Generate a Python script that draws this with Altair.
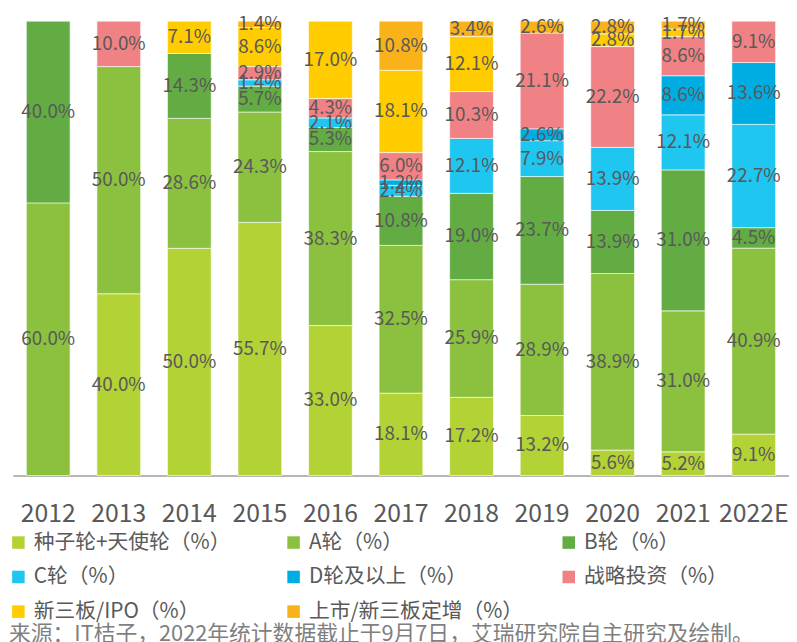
import altair as alt
import pandas as pd

years = ["2012", "2013", "2014", "2015", "2016", "2017", "2018", "2019", "2020", "2021", "2022E"]
series = ["种子轮+天使轮（%）", "A轮（%）", "B轮（%）", "C轮（%）", "D轮及以上（%）",
          "战略投资（%）", "新三板/IPO（%）", "上市/新三板定增（%）"]
colors = ["#B2D235", "#8BC13F", "#62AC43", "#1FC6F0", "#00ADE3", "#F08285", "#FFCC00", "#F9B219"]

seed      = [0.0, 40.0, 50.0, 55.7, 33.0, 18.1, 17.2, 13.2, 5.6, 5.2, 9.1]
round_a   = [60.0, 50.0, 28.6, 24.3, 38.3, 32.5, 25.9, 28.9, 38.9, 31.0, 40.9]
round_b   = [40.0, 0.0, 14.3, 5.7, 5.3, 10.8, 19.0, 23.7, 13.9, 31.0, 4.5]
round_c   = [0.0, 0.0, 0.0, 1.4, 2.1, 2.4, 12.1, 7.9, 13.9, 12.1, 22.7]
round_d   = [0.0, 0.0, 0.0, 0.0, 0.0, 1.2, 0.0, 2.6, 0.0, 8.6, 13.6]
strategic = [0.0, 10.0, 0.0, 2.9, 4.3, 6.0, 10.3, 21.1, 22.2, 8.6, 9.1]
ipo       = [0.0, 0.0, 7.1, 8.6, 17.0, 18.1, 12.1, 0.0, 2.8, 1.7, 0.0]
listed    = [0.0, 0.0, 0.0, 1.4, 0.0, 10.8, 3.4, 2.6, 2.8, 1.7, 0.0]

source_note = "来源：IT桔子，2022年统计数据截止于9月7日，艾瑞研究院自主研究及绘制。"

values = [seed, round_a, round_b, round_c, round_d, strategic, ipo, listed]
rows = []
for si, (name, vals) in enumerate(zip(series, values)):
    for y, v in zip(years, vals):
        if v > 0:
            rows.append({"year": y, "series": name, "idx": si, "value": v,
                         "label": f"{v:.1f}%"})
df = pd.DataFrame(rows)

FONT = "Noto Sans CJK SC"
TXT = "#595959"

base = alt.Chart(df).transform_stack(
    stack="value", groupby=["year"], sort=[alt.SortField("idx", order="ascending")],
    as_=["y0", "y1"], offset="normalize"
).transform_calculate(mid="(datum.y0 + datum.y1) / 2")

xenc = alt.X("year:N", sort=years, title=None,
             scale=alt.Scale(paddingInner=0.38, paddingOuter=0.19),
             axis=alt.Axis(labelAngle=0, labelFontSize=25, labelColor=TXT, labelFont=FONT,
                           ticks=False, domainColor="#6f6f6f", domainWidth=1.2,
                           labelPadding=26))

bars = base.mark_bar(stroke="white", strokeWidth=0.6).encode(
    x=xenc,
    y=alt.Y("y0:Q", axis=None, scale=alt.Scale(domain=[0, 1], nice=False)),
    y2="y1:Q",
    color=alt.Color("series:N", sort=series,
                    scale=alt.Scale(domain=series, range=colors),
                    legend=alt.Legend(title=None, orient="none", legendX=-5, legendY=516,
                                      direction="horizontal",
                                      columns=3, gridAlign="all", symbolType="square",
                                      symbolSize=160, symbolStrokeWidth=0,
                                      labelFontSize=21, labelFont=FONT, labelColor=TXT,
                                      labelOffset=5, columnPadding=35, rowPadding=13,
                                      labelLimit=400)),
)

labels = base.mark_text(fontSize=19, font=FONT, color=TXT).encode(
    x=alt.X("year:N", sort=years),
    y=alt.Y("mid:Q", scale=alt.Scale(domain=[0, 1], nice=False)),
    text="label:N",
)

note = alt.Chart(pd.DataFrame({"t": [source_note]})).mark_text(
    align="left", baseline="middle", fontSize=22, font=FONT, color="#7f7f7f"
).encode(x=alt.value(-4), y=alt.value(619), text="t:N")

chart = alt.layer(bars, labels, note).properties(
    width=784, height=459,
    autosize=alt.AutoSizeParams(type="none"),
    padding={"left": 5, "top": 10, "right": 0, "bottom": 174},
).configure_view(stroke=None)

chart.save("out.html", embed_options={"renderer": "svg", "actions": False})
